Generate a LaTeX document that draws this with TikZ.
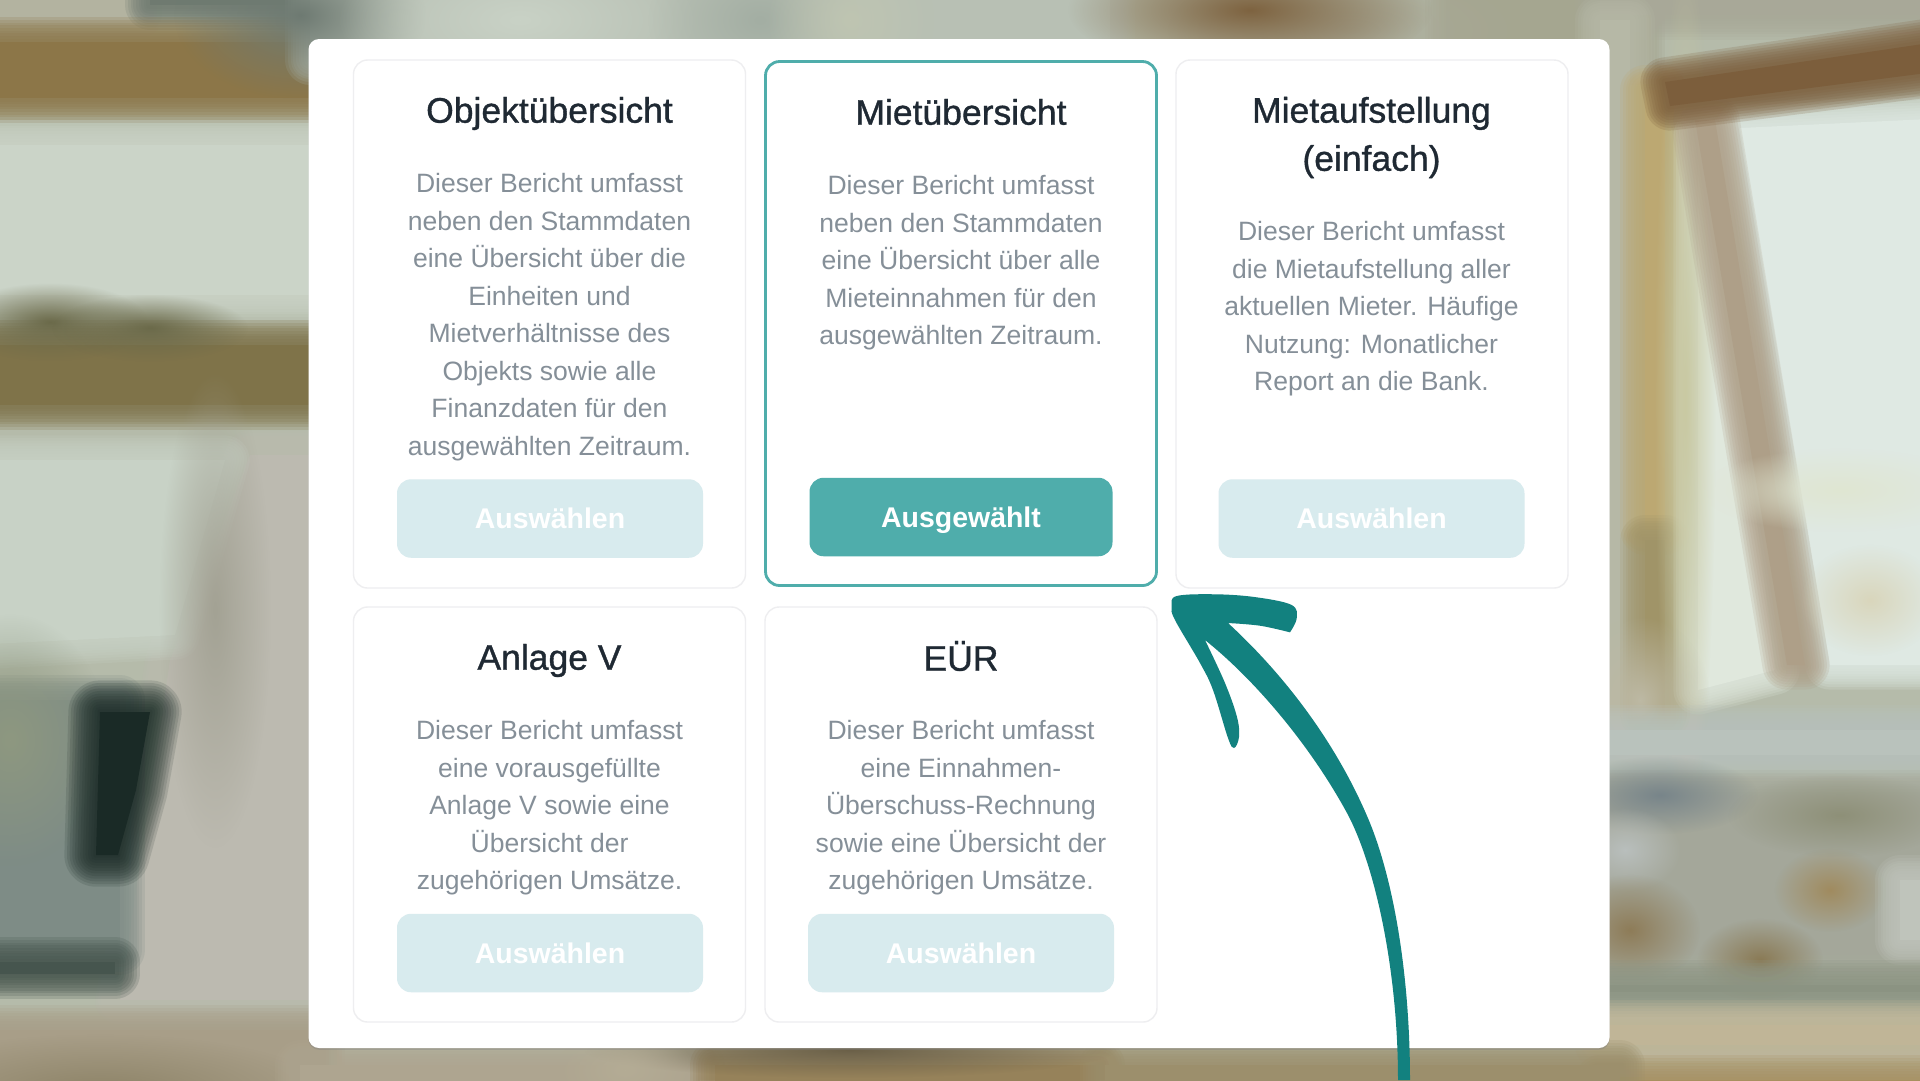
\documentclass[tikz,border=0pt]{standalone}
\usepackage{fontspec}
\setmainfont{Liberation Sans}
\newfontfamily\titlefont[FakeBold=1]{Liberation Sans}
\usetikzlibrary{fadings,shadows}
\definecolor{tealdark}{HTML}{12817F}
\definecolor{tealsel}{HTML}{4FADAB}
\definecolor{tealpale}{HTML}{D8EBEE}
\definecolor{cardline}{HTML}{EEEEF0}
\definecolor{bodygrey}{HTML}{858F98}
\definecolor{titleink}{HTML}{1F2933}
\definecolor{darkvase}{HTML}{1A2A26}
\tikzfading[name=softspot, inner color=transparent!0, outer color=transparent!100]
\tikzset{
  cardbox/.style={draw=cardline, line width=.4pt, fill=white, rounded corners=4pt, minimum width=39.2mm, inner sep=0},
  btn/.style={fill=tealpale, text=white, rounded corners=4pt, inner sep=0, text depth=0pt, font=\fontsize{8.1}{9}\selectfont\bfseries},
  cardtitle/.style={text=titleink, align=center, inner sep=0, font=\fontsize{10.1}{13.7}\titlefont},
  cardbody/.style={text=bodygrey, align=center, inner sep=0, font=\fontsize{7.55}{10.68}\selectfont},
}
% blurred backdrop pieces
\newcommand\softpatch[2]{%
  \definecolor{pc}{HTML}{#1}%
  \foreach \w in {14,12.5,11,9.5,8,6.5,5,3.5,2}{\path[draw=pc, line width=\w pt, draw opacity=.2] #2;}
  \fill[pc] #2;}
\newcommand\softspot[5]{%
  \definecolor{pc}{HTML}{#1}%
  \fill[pc, path fading=softspot, fit fading=true] (#2,#3) ellipse [x radius=#4*1.4, y radius=#5*1.4];}
\begin{document}
\begin{tikzpicture}[x=.1mm, y=-.1mm, line join=round, line cap=round]
\useasboundingbox (0,0) rectangle (1920,1080);
\clip (0,0) rectangle (1920,1080);
\definecolor{basegreen}{HTML}{B5BBAA}
\fill[basegreen] (0,0) rectangle (1920,1080);
% left side
\softpatch{B3B3A0}{(-30,-30) rectangle (140,12)}
\softpatch{6F7A70}{(150,-30) rectangle (320,5)}
\softpatch{8C7648}{(-30,42) rectangle (320,98)}
\softpatch{CBD4C8}{(-30,145) rectangle (320,295)}
\softpatch{7F7349}{(-30,345) rectangle (320,405)}
\softspot{6B6A4A}{50}{322}{70}{28}
\softspot{6B6A4A}{150}{328}{70}{24}
\softpatch{BCBAB0}{(170,660) -- (250,455) -- (320,455) -- (320,1000) -- (120,1000) -- cycle}
\softpatch{C8D2C6}{(-30,460) -- (225,460) -- (175,635) -- (-30,645) -- cycle}
\softspot{A3A294}{215}{610}{40}{170}
\softpatch{7E8C86}{(-30,700) rectangle (120,950)}
\softspot{8E9880}{10}{740}{70}{90}
\foreach \w in {18,16.5,15,13.5,12,10.5,9,7.5,6,4.5,3,1.5}
  \path[draw=darkvase, line width=\w pt, draw opacity=.14] (100,712) -- (150,712) -- (136,790) -- (118,855) -- (96,855) -- cycle;
\fill[darkvase] (100,712) -- (150,712) -- (136,790) -- (118,855) -- (96,855) -- cycle;
\softpatch{46554E}{(-30,962) rectangle (115,974)}
\softpatch{A89E88}{(-30,1030) rectangle (320,1110)}
\softspot{8E8468}{100}{1090}{160}{40}
% top strip
\softpatch{B8C0B4}{(310,-30) rectangle (1110,60)}
\softspot{6E7A72}{300}{15}{90}{60}
\softspot{C9D2C6}{520}{20}{130}{60}
\softspot{A3AEA3}{760}{20}{80}{60}
\softspot{BFC5B2}{850}{20}{60}{60}
\softpatch{A5A690}{(1450,-30) rectangle (1640,60)}
\softspot{A9A997}{1350}{30}{130}{50}
\softspot{7E6340}{1250}{10}{130}{45}
% right side
\softpatch{A8A898}{(1600,-30) rectangle (1950,15)}
\softpatch{B6B8A6}{(1600,20) rectangle (1630,720)}
\softpatch{BCA872}{(1645,90) rectangle (1665,530)}
\softpatch{A09468}{(1645,540) rectangle (1665,715)}
\softpatch{E0E8DD}{(1698,135) -- (1710,135) -- (1775,670) -- (1698,690) -- cycle}
\softspot{C9C9A2}{1685}{400}{22}{320}
\softpatch{DFE9E3}{(1740,128) -- (1950,118) -- (1950,665) -- (1830,665) -- cycle}
\softpatch{AE9F88}{(1695,120) -- (1715,120) -- (1805,665) -- (1787,665) -- cycle}
\softpatch{7C5E3C}{(1665,82) -- (1950,40) -- (1950,70) -- (1670,106) -- cycle}
\softspot{E0E6D2}{1840}{490}{100}{30}
\softspot{D9D6BC}{1870}{600}{50}{40}
\softspot{BDB9A4}{1640}{700}{50}{60}
\softpatch{B9C2BC}{(1600,730) rectangle (1950,755)}
\softpatch{A4A79A}{(1600,795) rectangle (1950,955)}
\softspot{78858A}{1660}{795}{70}{28}
\softspot{B9BFBD}{1625}{850}{40}{30}
\softspot{8E9078}{1840}{815}{80}{30}
\softspot{A08B5F}{1830}{890}{40}{30}
\softpatch{BFC4BB}{(1900,880) rectangle (1950,940)}
\softspot{8E7C58}{1630}{930}{50}{40}
\softspot{8A7A55}{1760}{960}{45}{30}
\softpatch{8B9382}{(1600,985) rectangle (1950,992)}
\softpatch{C0B597}{(1600,1025) rectangle (1950,1045)}
\softpatch{A8905F}{(1600,1080) rectangle (1950,1110)}
% bottom strip
\softpatch{AEA590}{(300,1065) rectangle (700,1110)}
\softpatch{96825A}{(715,1065) rectangle (1100,1110)}
\softpatch{9C8F6C}{(1105,1065) rectangle (1620,1110)}
\softspot{6B6048}{850}{1050}{190}{20}
\softspot{B4AC95}{625}{1070}{50}{30}
% panel
\node[fill=white, rounded corners=3pt, minimum width=130.1mm, minimum height=100.9mm, inner sep=0, drop shadow={shadow xshift=0pt, shadow yshift=-.5pt, opacity=.35}] (panel) at (959,543.5) {};
% cards
\foreach \nm/\cx/\cy/\ch in {objcard/549.5/324/528, reportcard/1372/324/528, anlagecard/549.5/814.5/415, euercard/961/814.5/415}
  \node[cardbox, minimum height={\ch*.1mm}] (\nm) at (\cx,\cy) {};
\node[cardbox, draw=tealsel, line width=.8pt, minimum width=39.1mm, minimum height=52.4mm] (miecard) at (961,323.5) {};
% buttons
\foreach \nm/\cx/\cy in {objbtn/550/518.5, reportbtn/1371.5/518.5, anlagebtn/550/953, euerbtn/961/953}
  \node[btn, minimum width=30.6mm, minimum height=7.85mm] (\nm) at (\cx,\cy) {Auswählen};
\node[btn, fill=tealsel, minimum width=30.3mm, minimum height=7.85mm] (miebtn) at (961,517) {Ausgewählt};
% titles
\node[cardtitle] (objtitle) at (549.5,113.5) {Objektübersicht};
\node[cardtitle] (mietitle) at (961,112) {Mietübersicht};
\node[cardtitle] (reporttitle) at (1371.5,137.5) {Mietaufstellung\\(einfach)};
\node[cardtitle] (anlagetitle) at (549.5,660.5) {Anlage V};
\node[cardtitle] (euertitle) at (961,656) {EÜR};
% body text
\node[cardbody] (objbody) at (549.5,317) {Dieser Bericht umfasst\\neben den Stammdaten\\eine Übersicht über die\\Einheiten und\\Mietverhältnisse des\\Objekts sowie alle\\Finanzdaten für den\\ausgewählten Zeitraum.};
\node[cardbody] (miebody) at (961,263) {Dieser Bericht umfasst\\neben den Stammdaten\\eine Übersicht über alle\\Mieteinnahmen für den\\ausgewählten Zeitraum.};
\node[cardbody] (reportbody) at (1371.5,309) {Dieser Bericht umfasst\\die Mietaufstellung aller\\aktuellen Mieter. Häufige\\Nutzung: Monatlicher\\Report an die Bank.};
\node[cardbody] (anlagebody) at (549.5,808) {Dieser Bericht umfasst\\eine vorausgefüllte\\Anlage V sowie eine\\Übersicht der\\zugehörigen Umsätze.};
\node[cardbody] (euerbody) at (961,808) {Dieser Bericht umfasst\\eine Einnahmen-\\Überschuss-Rechnung\\sowie eine Übersicht der\\zugehörigen Umsätze.};
% hand drawn arrow
\fill[tealdark] (1398,1080) .. controls (1398,970) and (1375,865) .. (1347,813) .. controls (1310,745) and (1255,680) .. (1205,640)
  -- plot[smooth, tension=.6] coordinates {(1205,640) (1225,683) (1237,717) (1239,737) (1234,748) (1228,738) (1213,690) (1200,663) (1175,620) (1171.7,606.7) (1176.7,596) (1216.7,594.3) (1256.7,597.3) (1291.7,605) (1296.7,618.3) (1290,632.3)}
  -- plot[smooth, tension=.6] coordinates {(1290,632.3) (1260,625.7) (1228,623)}
  .. controls (1290,680) and (1340,750) .. (1370,823) .. controls (1395,885) and (1410,980) .. (1410,1080) -- cycle;
\end{tikzpicture}
\end{document}
